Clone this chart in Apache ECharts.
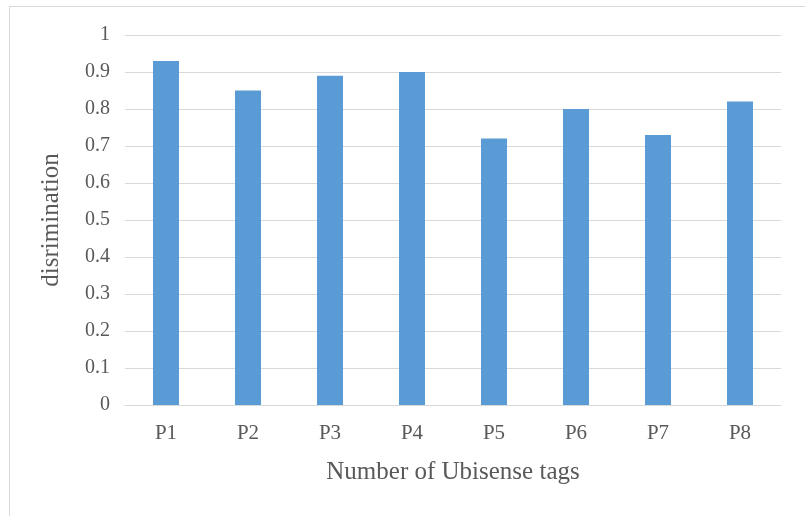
<!DOCTYPE html>
<html>
<head>
<meta charset="utf-8">
<script src="https://cdn.jsdelivr.net/npm/echarts@6/dist/echarts.min.js"></script>
<style>
  html, body { margin: 0; padding: 0; background: #fff; }
  #chart { width: 805px; height: 516px; }
</style>
</head>
<body>
<div id="chart"></div>
<script>
// Discrimination per Ubisense tag position
const categories = ['P1', 'P2', 'P3', 'P4', 'P5', 'P6', 'P7', 'P8'];
const discrimination = [0.93, 0.85, 0.89, 0.90, 0.72, 0.80, 0.73, 0.82];
const yTicks = { min: 0, max: 1, interval: 0.1 };

const textColor = '#595959';
const gridColor = '#d9d9d9';
const fontFamily = '"Liberation Serif", "Times New Roman", serif';

const chart = echarts.init(document.getElementById('chart'), null, { renderer: 'canvas' });
chart.setOption({
  backgroundColor: '#ffffff',
  animation: false,
  graphic: [
    { type: 'line', shape: { x1: 9.5, y1: 6, x2: 9.5, y2: 516 }, style: { stroke: gridColor, lineWidth: 1 } },
    { type: 'line', shape: { x1: 9, y1: 6.5, x2: 805, y2: 6.5 }, style: { stroke: gridColor, lineWidth: 1 } }
  ],
  grid: { left: 125, right: 24, top: 35, bottom: 111 },
  xAxis: {
    type: 'category',
    data: categories,
    name: 'Number of Ubisense tags',
    nameLocation: 'middle',
    nameGap: 55,
    nameTextStyle: { color: textColor, fontSize: 25, fontFamily: fontFamily },
    axisLine: { lineStyle: { color: gridColor, width: 1 } },
    axisTick: { show: false },
    axisLabel: { color: textColor, fontSize: 21, fontFamily: fontFamily, margin: 18 }
  },
  yAxis: {
    type: 'value',
    min: yTicks.min,
    max: yTicks.max,
    interval: yTicks.interval,
    name: 'disrimination',
    nameLocation: 'middle',
    nameGap: 61,
    nameRotate: 90,
    nameTextStyle: { color: textColor, fontSize: 25, fontFamily: fontFamily },
    axisLine: { show: false },
    axisTick: { show: false },
    axisLabel: {
      color: textColor, fontSize: 20, fontFamily: fontFamily, margin: 15,
      formatter: v => String(Math.round(v * 10) / 10)
    },
    splitLine: { lineStyle: { color: gridColor, width: 1 } }
  },
  series: [{
    type: 'bar',
    data: discrimination,
    barWidth: 26,
    itemStyle: { color: '#5b9bd5' }
  }]
});
</script>
</body>
</html>
